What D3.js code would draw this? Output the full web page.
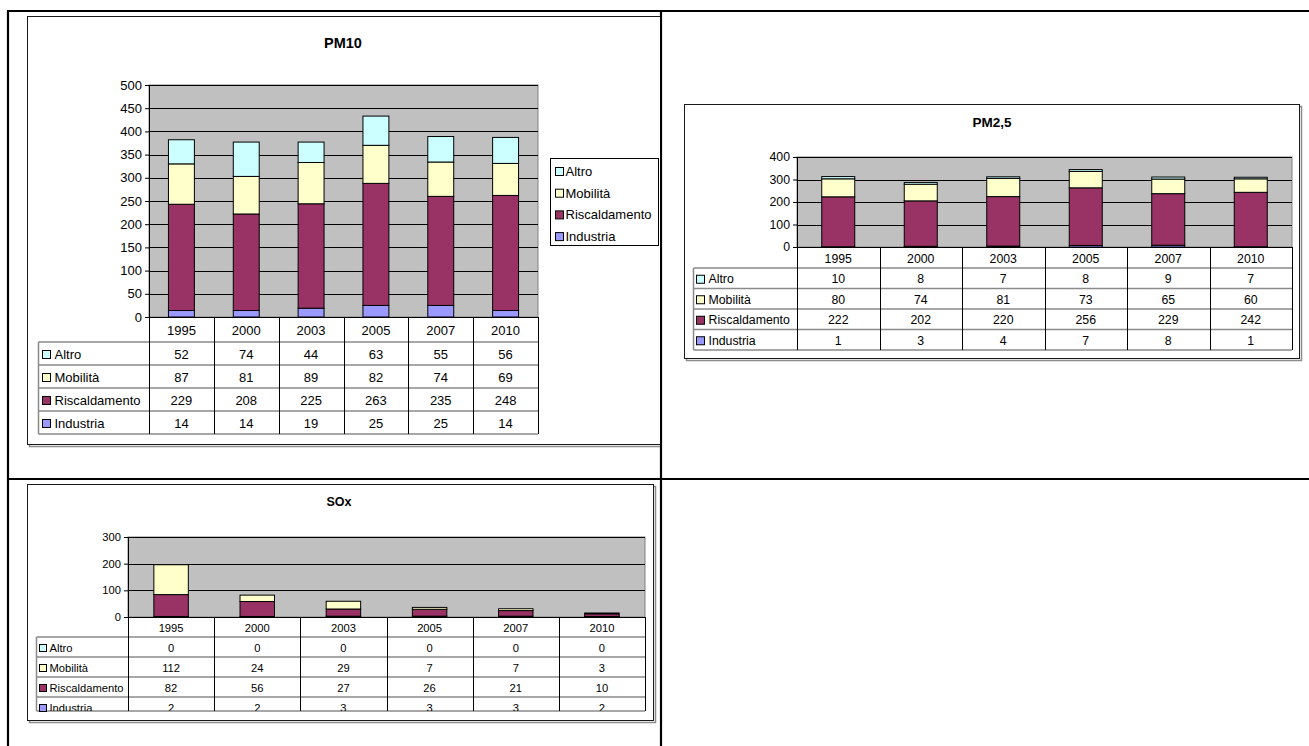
<!DOCTYPE html>
<html>
<head>
<meta charset="utf-8">
<script src="https://cdn.jsdelivr.net/npm/d3@7"></script>
<style>
  html, body { margin: 0; padding: 0; background: #ffffff; }
  svg { display: block; }
  text { font-family: "Liberation Sans", Arial, sans-serif; fill: #000; }
</style>
</head>
<body>
<script>
// ---------------- DATA ----------------
const years = ["1995", "2000", "2003", "2005", "2007", "2010"];
const seriesNames = ["Altro", "Mobilità", "Riscaldamento", "Industria"];

const pm10Altro = [52, 74, 44, 63, 55, 56];
const pm10Mobilita = [87, 81, 89, 82, 74, 69];
const pm10Riscaldamento = [229, 208, 225, 263, 235, 248];
const pm10Industria = [14, 14, 19, 25, 25, 14];
const pm10Ticks = [0, 50, 100, 150, 200, 250, 300, 350, 400, 450, 500];

const pm25Altro = [10, 8, 7, 8, 9, 7];
const pm25Mobilita = [80, 74, 81, 73, 65, 60];
const pm25Riscaldamento = [222, 202, 220, 256, 229, 242];
const pm25Industria = [1, 3, 4, 7, 8, 1];
const pm25Ticks = [0, 100, 200, 300, 400];

const soxAltro = [0, 0, 0, 0, 0, 0];
const soxMobilita = [112, 24, 29, 7, 7, 3];
const soxRiscaldamento = [82, 56, 27, 26, 21, 10];
const soxIndustria = [2, 2, 3, 3, 3, 2];
const soxTicks = [0, 100, 200, 300];

// styles
const seriesColors = ["#CCFFFF", "#FFFFCC", "#993366", "#9999FF"];

// ---------------- DRAW ----------------
const W = 1309, H = 746;
const svg = d3.select("body").append("svg").attr("width", W).attr("height", H);
const defs = svg.append("defs");
let clipId = 0;

function makeClip(x, y, w, h) {
  const id = "clip" + (clipId++);
  defs.append("clipPath").attr("id", id).append("rect")
    .attr("x", x).attr("y", y).attr("width", w).attr("height", h);
  return "url(#" + id + ")";
}

function drawChart(cfg, seriesValues) {
  const g = svg.append("g");
  if (cfg.clip) g.attr("clip-path", makeClip(cfg.clip.x, cfg.clip.y, cfg.clip.w, cfg.clip.h));
  const f = cfg.frame;
  // frame shadow + frame
  g.append("rect").attr("x", f.x + 2).attr("y", f.y + 2).attr("width", f.w).attr("height", f.h)
    .attr("fill", "none").attr("stroke", "#8c8c8c").attr("stroke-width", 1.5);
  g.append("rect").attr("x", f.x).attr("y", f.y).attr("width", f.w).attr("height", f.h)
    .attr("fill", "#ffffff").attr("stroke", "#1a1a1a").attr("stroke-width", 1);

  // title
  g.append("text").attr("x", cfg.title.x).attr("y", cfg.title.y)
    .attr("text-anchor", "middle").attr("dominant-baseline", "central")
    .attr("font-weight", "bold").attr("font-size", cfg.titleSize)
    .text(cfg.title.text);

  const p = cfg.plot;
  const x = d3.scaleBand().domain(years).range([p.x0, p.x1]).paddingInner(0.6).paddingOuter(0.3);
  const xc = d3.scaleBand().domain(years).range([p.x0, p.x1]).padding(0);
  const y = d3.scaleLinear().domain([0, d3.max(cfg.ticks)]).range([p.y1, p.y0]);

  // plot background
  g.append("rect").attr("x", p.x0).attr("y", p.y0).attr("width", p.x1 - p.x0).attr("height", p.y1 - p.y0)
    .attr("fill", "#C0C0C0").attr("stroke", "#808080").attr("stroke-width", 1);

  // gridlines
  g.append("g").selectAll("line").data(cfg.ticks.filter(t => t > 0)).join("line")
    .attr("x1", p.x0).attr("x2", p.x1)
    .attr("y1", d => Math.round(y(d)) + 0.5).attr("y2", d => Math.round(y(d)) + 0.5)
    .attr("stroke", "#000").attr("stroke-width", 1);

  // stacked bars
  const rows = years.map((yr, i) => {
    const o = { year: yr };
    seriesNames.forEach((s, k) => { o[s] = seriesValues[k][i]; });
    return o;
  });
  const stackKeys = seriesNames.slice().reverse(); // Industria at bottom
  const stacked = d3.stack().keys(stackKeys)(rows);
  stacked.forEach(layer => {
    const color = seriesColors[seriesNames.indexOf(layer.key)];
    g.append("g").selectAll("rect").data(layer.filter(d => d[1] - d[0] > 0)).join("rect")
      .attr("x", d => x(d.data.year))
      .attr("width", x.bandwidth())
      .attr("y", d => y(d[1]))
      .attr("height", d => y(d[0]) - y(d[1]))
      .attr("fill", color)
      .attr("stroke", "#000").attr("stroke-width", 1);
  });

  // y axis
  const axis = d3.axisLeft(y).tickValues(cfg.ticks).tickSize(4).tickPadding(3).tickFormat(d3.format("d"));
  const ag = g.append("g").attr("transform", `translate(${p.x0},0)`).call(axis);
  ag.select(".domain").attr("stroke", "#000");
  ag.selectAll(".tick line").attr("stroke", "#000");
  ag.selectAll(".tick text").attr("font-size", cfg.fontSize)
    .attr("font-family", "Liberation Sans, Arial, sans-serif").attr("fill", "#000");

  // data table
  const t = cfg.table;
  const headerEnd = p.y1 + t.headerH;
  const rowTop = k => headerEnd + k * t.rowH;
  const bottom = t.bottom !== undefined ? t.bottom : rowTop(seriesNames.length);
  const tg = g.append("g");
  const textG = g.append("g").attr("clip-path", makeClip(t.left - 2, p.y1, p.x1 - t.left + 4, bottom - p.y1));

  // horizontal lines (gray)
  const hLines = [headerEnd];
  for (let k = 1; k < seriesNames.length; k++) hLines.push(rowTop(k));
  hLines.push(bottom);
  tg.selectAll("line.h").data(hLines).join("line").attr("class", "h")
    .attr("x1", t.left).attr("x2", p.x1)
    .attr("y1", d => d).attr("y2", d => d)
    .attr("stroke", "#8a8a8a").attr("stroke-width", 1.5);
  // left border of label column
  tg.append("line").attr("x1", t.left).attr("x2", t.left).attr("y1", headerEnd).attr("y2", bottom)
    .attr("stroke", "#8a8a8a").attr("stroke-width", 1.5);
  // vertical lines (black)
  const vLines = years.map(yr => xc(yr)).concat([p.x1]);
  tg.selectAll("line.v").data(vLines).join("line").attr("class", "v")
    .attr("x1", d => Math.round(d) + 0.5).attr("x2", d => Math.round(d) + 0.5)
    .attr("y1", p.y1).attr("y2", bottom)
    .attr("stroke", "#000").attr("stroke-width", 1);
  // x axis line
  tg.append("line").attr("x1", p.x0).attr("x2", p.x1).attr("y1", p.y1 + 0.5).attr("y2", p.y1 + 0.5)
    .attr("stroke", "#000").attr("stroke-width", 1.2);

  // header texts
  textG.selectAll("text.yr").data(years).join("text").attr("class", "yr")
    .attr("x", d => xc(d) + xc.bandwidth() / 2)
    .attr("y", p.y1 + t.headerH / 2 + 1)
    .attr("text-anchor", "middle").attr("dominant-baseline", "central")
    .attr("font-size", cfg.fontSize).text(d => d);

  // rows
  seriesNames.forEach((name, k) => {
    const cy = rowTop(k) + t.rowH / 2 + 1;
    const ks = cfg.keySize;
    tg.append("rect").attr("x", t.left + t.keyOffset).attr("y", cy - ks / 2).attr("width", ks).attr("height", ks)
      .attr("fill", seriesColors[k]).attr("stroke", "#000").attr("stroke-width", 1);
    textG.append("text").attr("x", t.left + t.textOffset).attr("y", cy)
      .attr("dominant-baseline", "central").attr("font-size", cfg.fontSize).text(name);
    textG.selectAll(null).data(seriesValues[k]).join("text")
      .attr("x", (d, i) => xc(years[i]) + xc.bandwidth() / 2)
      .attr("y", cy)
      .attr("text-anchor", "middle").attr("dominant-baseline", "central")
      .attr("font-size", cfg.fontSize).text(d => d);
  });

  // legend
  if (cfg.legend) {
    const L = cfg.legend;
    g.append("rect").attr("x", L.x).attr("y", L.y).attr("width", L.w).attr("height", L.h)
      .attr("fill", "#fff").attr("stroke", "#000").attr("stroke-width", 1);
    seriesNames.forEach((name, k) => {
      const cy = L.y + L.first + k * L.step;
      g.append("rect").attr("x", L.x + 5).attr("y", cy - 4).attr("width", 8).attr("height", 8)
        .attr("fill", seriesColors[k]).attr("stroke", "#000").attr("stroke-width", 1);
      g.append("text").attr("x", L.x + 15).attr("y", cy)
        .attr("dominant-baseline", "central").attr("font-size", cfg.fontSize).text(name);
    });
  }
}

// outer page table borders
const borders = [
  [7, 11, W, 11],
  [8, 10, 8, H],
  [661, 10, 661, H],
  [7, 479, W, 479]
];
svg.append("g").selectAll("line").data(borders).join("line")
  .attr("x1", d => d[0]).attr("y1", d => d[1]).attr("x2", d => d[2]).attr("y2", d => d[3])
  .attr("stroke", "#000").attr("stroke-width", 2.2);

// PM10
drawChart({
  clip: { x: 9, y: 12, w: 651, h: 466 },
  frame: { x: 27.5, y: 16.5, w: 680, h: 428 },
  title: { x: 343, y: 43, text: "PM10" },
  titleSize: 14.5,
  fontSize: 13,
  keySize: 8,
  ticks: pm10Ticks,
  plot: { x0: 149, x1: 538, y0: 85, y1: 317 },
  table: { left: 38.5, headerH: 25, rowH: 23, keyOffset: 4, textOffset: 16 },
  legend: { x: 550.5, y: 158.5, w: 108, h: 87, first: 13, step: 21.7 }
}, [pm10Altro, pm10Mobilita, pm10Riscaldamento, pm10Industria]);

// PM2,5
drawChart({
  frame: { x: 684.5, y: 104.5, w: 615, h: 254 },
  title: { x: 992, y: 122, text: "PM2,5" },
  titleSize: 13.5,
  fontSize: 12.3,
  keySize: 8,
  ticks: pm25Ticks,
  plot: { x0: 797, x1: 1292, y0: 157, y1: 247 },
  table: { left: 693.5, headerH: 21, rowH: 20.5, keyOffset: 3, textOffset: 15 }
}, [pm25Altro, pm25Mobilita, pm25Riscaldamento, pm25Industria]);

// SOx
drawChart({
  frame: { x: 27.5, y: 484.5, w: 626, h: 236 },
  title: { x: 339, y: 502, text: "SOx" },
  titleSize: 12.5,
  fontSize: 11.2,
  keySize: 7,
  ticks: soxTicks,
  plot: { x0: 128, x1: 645, y0: 537, y1: 617 },
  table: { left: 36.5, headerH: 20, rowH: 20, bottom: 711, keyOffset: 3, textOffset: 13 }
}, [soxAltro, soxMobilita, soxRiscaldamento, soxIndustria]);
</script>
</body>
</html>
